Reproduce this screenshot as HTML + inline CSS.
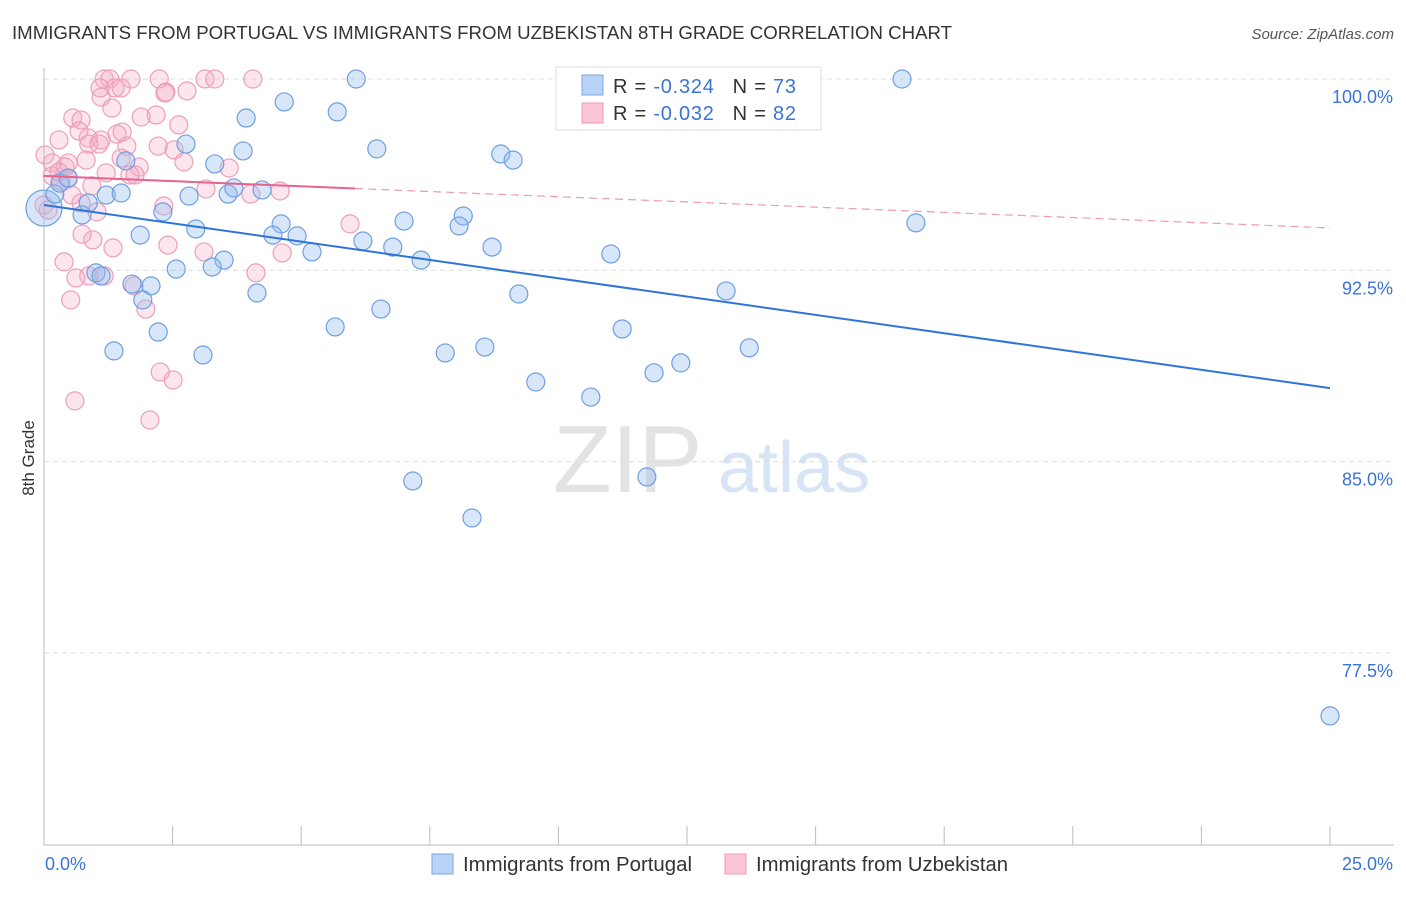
<!DOCTYPE html>
<html><head><meta charset="utf-8"><style>
body{margin:0;background:#fff;font-family:"Liberation Sans",sans-serif;}
svg text{font-family:"Liberation Sans",sans-serif;}
</style></head><body>
<svg id="chart" width="1406" height="892">
<text x="12" y="39" font-size="18.5" fill="#333" textLength="940" lengthAdjust="spacingAndGlyphs">IMMIGRANTS FROM PORTUGAL VS IMMIGRANTS FROM UZBEKISTAN 8TH GRADE CORRELATION CHART</text>
<text x="1394" y="39" font-size="15" fill="#555" font-style="italic" text-anchor="end">Source: ZipAtlas.com</text>
<text transform="translate(34,458) rotate(-90)" font-size="17" fill="#333" text-anchor="middle">8th Grade</text>
<g>
<text x="553" y="492" font-size="96" fill="#e3e3e3" font-family="Liberation Serif">ZIP</text>
<text x="718" y="492" font-size="72" fill="#d6e4f5">atlas</text>
</g>
<g id="grid"></g>
<g id="axes"></g>
<g id="pts"></g>
<g id="trend"></g>
<g>
<rect x="556" y="67" width="265" height="63" fill="#fff" stroke="#ddd"/>
<rect x="582" y="75" width="21" height="20" fill="#b8d3f5" stroke="#7aa8e6"/>
<rect x="582" y="103" width="21" height="20" fill="#fac6d6" stroke="#ee9ab5"/>
<text x="613" y="93" font-size="20" fill="#333" textLength="183" lengthAdjust="spacing">R = <tspan fill="#3a74d8">-0.324</tspan><tspan dx="18">N = </tspan><tspan fill="#3a74d8">73</tspan></text>
<text x="613" y="120" font-size="20" fill="#333" textLength="183" lengthAdjust="spacing">R = <tspan fill="#3a74d8">-0.032</tspan><tspan dx="18">N = </tspan><tspan fill="#3a74d8">82</tspan></text>
</g>
<g>
<rect x="432" y="854" width="21" height="20" fill="#b8d3f5" stroke="#7aa8e6"/>
<text x="463" y="871" font-size="20" fill="#333" textLength="229" lengthAdjust="spacingAndGlyphs">Immigrants from Portugal</text>
<rect x="725" y="854" width="21" height="20" fill="#fac6d6" stroke="#ee9ab5"/>
<text x="756" y="871" font-size="20" fill="#333" textLength="252" lengthAdjust="spacingAndGlyphs">Immigrants from Uzbekistan</text>
</g>
</svg>
<script>
const yTicks=[100,92.5,85,77.5];
const yTickLabels=["100.0%","92.5%","85.0%","77.5%"];
const xTickLabels=["0.0%","25.0%"];
const blueX=[0,6.07,11.04,16.68,4.67,5.70,3.93,6.47,3.87,2.76,3.32,1.59,8.88,9.12,0.21,1.21,1.50,2.82,3.58,3.69,4.24,0.86,2.31,0.74,8.15,7.00,8.07,16.95,4.61,1.87,2.95,4.45,4.92,6.20,6.78,8.71,5.21,3.50,7.33,11.02,2.57,3.27,1.01,1.11,1.71,2.08,1.92,4.14,9.23,13.26,6.55,5.66,11.24,2.22,1.36,3.09,7.80,8.57,13.71,12.38,11.86,9.56,10.63,7.17,8.32,11.72,25.0,0.31,0.47];
const blueY=[94.94,100,100,100,99.10,98.71,98.47,97.26,97.18,97.45,96.67,96.79,97.06,96.82,95.49,95.45,95.53,95.41,95.49,95.73,95.65,95.14,94.79,94.67,94.63,94.43,94.24,94.36,94.32,93.88,94.12,93.88,93.85,93.65,93.41,93.41,93.22,92.90,92.90,93.14,92.55,92.63,92.40,92.28,91.96,91.89,91.34,91.61,91.57,91.69,90.98,90.28,90.20,90.08,89.34,89.18,89.26,89.49,89.46,88.87,88.48,88.12,87.53,84.24,82.79,84.40,75.03,95.92,96.12];
const pinkX=[1.17,1.28,1.69,2.24,3.13,3.32,4.06,1.09,1.38,1.50,2.78,2.37,1.11,1.32,2.18,1.89,0.56,0.72,2.62,1.42,1.52,0.29,0.68,0.86,1.11,0.87,1.07,1.61,2.22,2.53,0.02,0.16,0.47,0.82,1.50,2.72,3.60,1.85,0.16,0.29,0.33,0.47,1.21,1.77,3.15,4.02,4.59,0.93,0.54,0,0.08,0.72,1.03,2.33,5.95,0.74,0.95,1.34,2.41,3.11,4.63,0.39,0.62,0.87,1.17,1.75,0.52,1.98,4.12,2.26,2.51,0.60,2.06,2.35,0.41,1.67];
const pinkY=[100,100,100,100,100,100,100,99.65,99.65,99.65,99.53,99.49,99.29,98.86,98.59,98.51,98.47,98.39,98.20,97.84,97.92,97.61,97.96,97.69,97.61,97.45,97.45,97.37,97.37,97.22,97.02,96.71,96.71,96.82,96.90,96.75,96.51,96.55,96.20,96.35,96.00,96.08,96.32,96.24,95.69,95.49,95.61,95.81,95.45,95.06,94.86,95.14,94.79,95.02,94.32,93.92,93.69,93.38,93.49,93.22,93.18,92.83,92.20,92.28,92.28,91.89,91.34,90.98,92.40,88.51,88.20,87.38,86.63,99.45,96.55,96.24];
const blueTrend=[95.06,87.88];
const pinkTrend=[96.2,94.16];
const pinkSolidEnd=6.05;

const NS="http://www.w3.org/2000/svg";
const X0=44,X1=1330,Y100=79,YPX=191.3/7.5;
const sx=v=>X0+(v/25)*(X1-X0);
const sy=v=>Y100+(100-v)*YPX;
function mk(tag,attrs,parent){const e=document.createElementNS(NS,tag);for(const k in attrs)e.setAttribute(k,attrs[k]);document.getElementById(parent).appendChild(e);return e;}

yTicks.forEach((t,i)=>{
 const l=mk('line',{x1:X0,x2:1394,y1:sy(t),y2:sy(t),stroke:'#ddd','stroke-dasharray':'5,4'},'grid');
 
 
 const tx=mk('text',{x:1393,y:sy(t)+24,'font-size':18,fill:'#3a74d8','text-anchor':'end'},'grid');
 tx.textContent=yTickLabels[i];
 
 
});
const ax=mk('line',{x1:X0,x2:1394,y1:845,y2:845,stroke:'#bbb'},'axes');


const ay=mk('line',{x1:X0,x2:X0,y1:68,y2:845,stroke:'#bbb'},'axes');


for(let i=1;i<=10;i++){
 const tk=mk('line',{x1:sx(i*2.5),x2:sx(i*2.5),y1:826,y2:845,stroke:'#bbb'},'axes');
 
 
}
const xl0=mk('text',{x:45,y:870,'font-size':18,fill:'#3a74d8'},'axes');
xl0.textContent=xTickLabels[0];


const xl1=mk('text',{x:1393,y:870,'font-size':18,fill:'#3a74d8','text-anchor':'end'},'axes');
xl1.textContent=xTickLabels[1];



pinkX.forEach((x,i)=>{
 const c=mk('circle',{cx:sx(x),cy:sy(pinkY[i]),r:9,fill:'rgba(244,170,195,0.3)',stroke:'#ec9fb8','stroke-width':1.2},'pts');
 
 
});
blueX.forEach((x,i)=>{
 const c=mk('circle',{cx:sx(x),cy:sy(blueY[i]),r:i===0?18:9,fill:'rgba(150,190,240,0.38)',stroke:'#6f9fe0','stroke-width':1.2},'pts');
 
 
});
const bt=mk('line',{x1:sx(0),y1:sy(blueTrend[0]),x2:sx(25),y2:sy(blueTrend[1]),stroke:'#2f74d8','stroke-width':2},'trend');


const pyAt=v=>pinkTrend[0]+(pinkTrend[1]-pinkTrend[0])*v/25;
const pt=mk('line',{x1:sx(0),y1:sy(pinkTrend[0]),x2:sx(pinkSolidEnd),y2:sy(pyAt(pinkSolidEnd)),stroke:'#e8628e','stroke-width':2},'trend');


const pd=mk('line',{x1:sx(pinkSolidEnd),y1:sy(pyAt(pinkSolidEnd)),x2:sx(25),y2:sy(pinkTrend[1]),stroke:'#ee9ab5','stroke-width':1.2,'stroke-dasharray':'8,5'},'trend');


</script>
</body></html>
